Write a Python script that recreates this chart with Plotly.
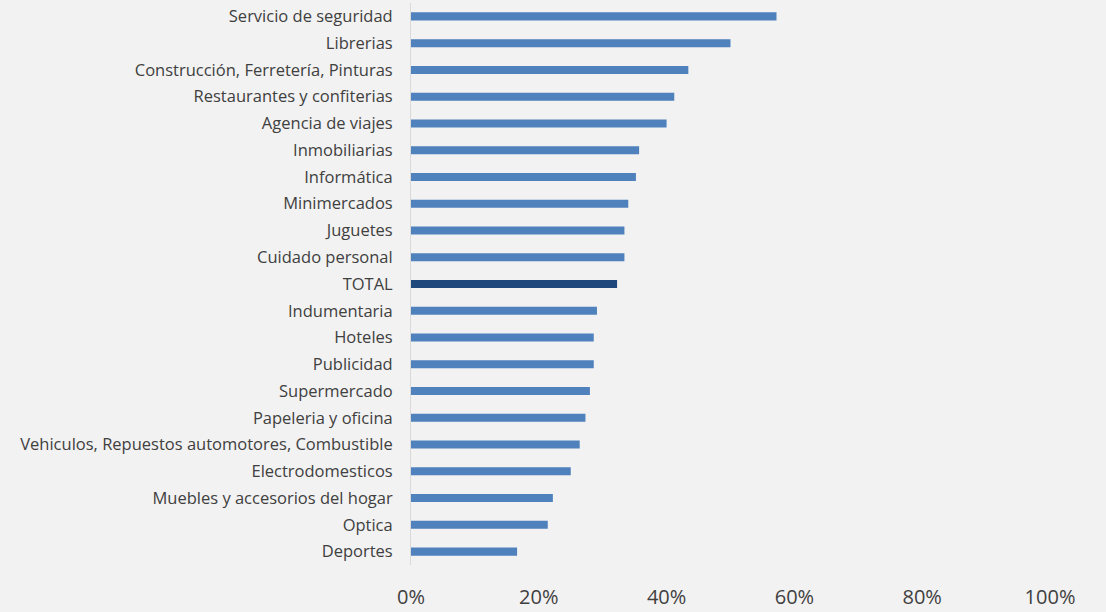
import plotly.graph_objects as go

# Sector shares, listed top to bottom
categories = [
    "Servicio de seguridad",
    "Librerias",
    "Construcción, Ferretería, Pinturas",
    "Restaurantes y confiterias",
    "Agencia de viajes",
    "Inmobiliarias",
    "Informática",
    "Minimercados",
    "Juguetes",
    "Cuidado personal",
    "TOTAL",
    "Indumentaria",
    "Hoteles",
    "Publicidad",
    "Supermercado",
    "Papeleria y oficina",
    "Vehiculos, Repuestos automotores, Combustible",
    "Electrodomesticos",
    "Muebles y accesorios del hogar",
    "Optica",
    "Deportes",
]
values = [
    0.572, 0.500, 0.434, 0.412, 0.400, 0.357, 0.352, 0.340, 0.334, 0.334,
    0.3225, 0.291, 0.286, 0.286, 0.280, 0.273, 0.264, 0.250, 0.222, 0.214, 0.166,
]
x_ticks = [0, 0.2, 0.4, 0.6, 0.8, 1.0]
x_tick_labels = ["0%", "20%", "40%", "60%", "80%", "100%"]

bar_color = "#4f81bd"
total_color = "#1f497d"
colors = [total_color if c == "TOTAL" else bar_color for c in categories]

fig = go.Figure(
    go.Bar(
        x=values,
        y=categories,
        orientation="h",
        marker=dict(color=colors, line=dict(width=0)),
        hoverinfo="x+y",
    )
)

fig.update_layout(
    width=1106,
    height=612,
    margin=dict(l=411, r=56, t=3, b=47, autoexpand=False),
    paper_bgcolor="#f2f2f2",
    plot_bgcolor="#f2f2f2",
    bargap=0.7,
    showlegend=False,
    font=dict(family="Open Sans, sans-serif", color="#404040"),
)

fig.update_xaxes(
    range=[0, 1],
    tickvals=x_ticks,
    ticktext=x_tick_labels,
    showgrid=False,
    zeroline=False,
    showline=False,
    ticks="",
    automargin=False,
    tickfont=dict(size=20, color="#404040", family="Open Sans, sans-serif"),
    ticklabelstandoff=18,
)

fig.update_yaxes(
    categoryorder="array",
    categoryarray=categories,
    autorange="reversed",
    showgrid=False,
    zeroline=False,
    showline=True,
    linecolor="#d9d9d9",
    linewidth=1,
    ticks="",
    automargin=False,
    tickfont=dict(size=16.5, color="#404040"),
    ticklabelstandoff=14,
)

fig.write_html("out.html")
